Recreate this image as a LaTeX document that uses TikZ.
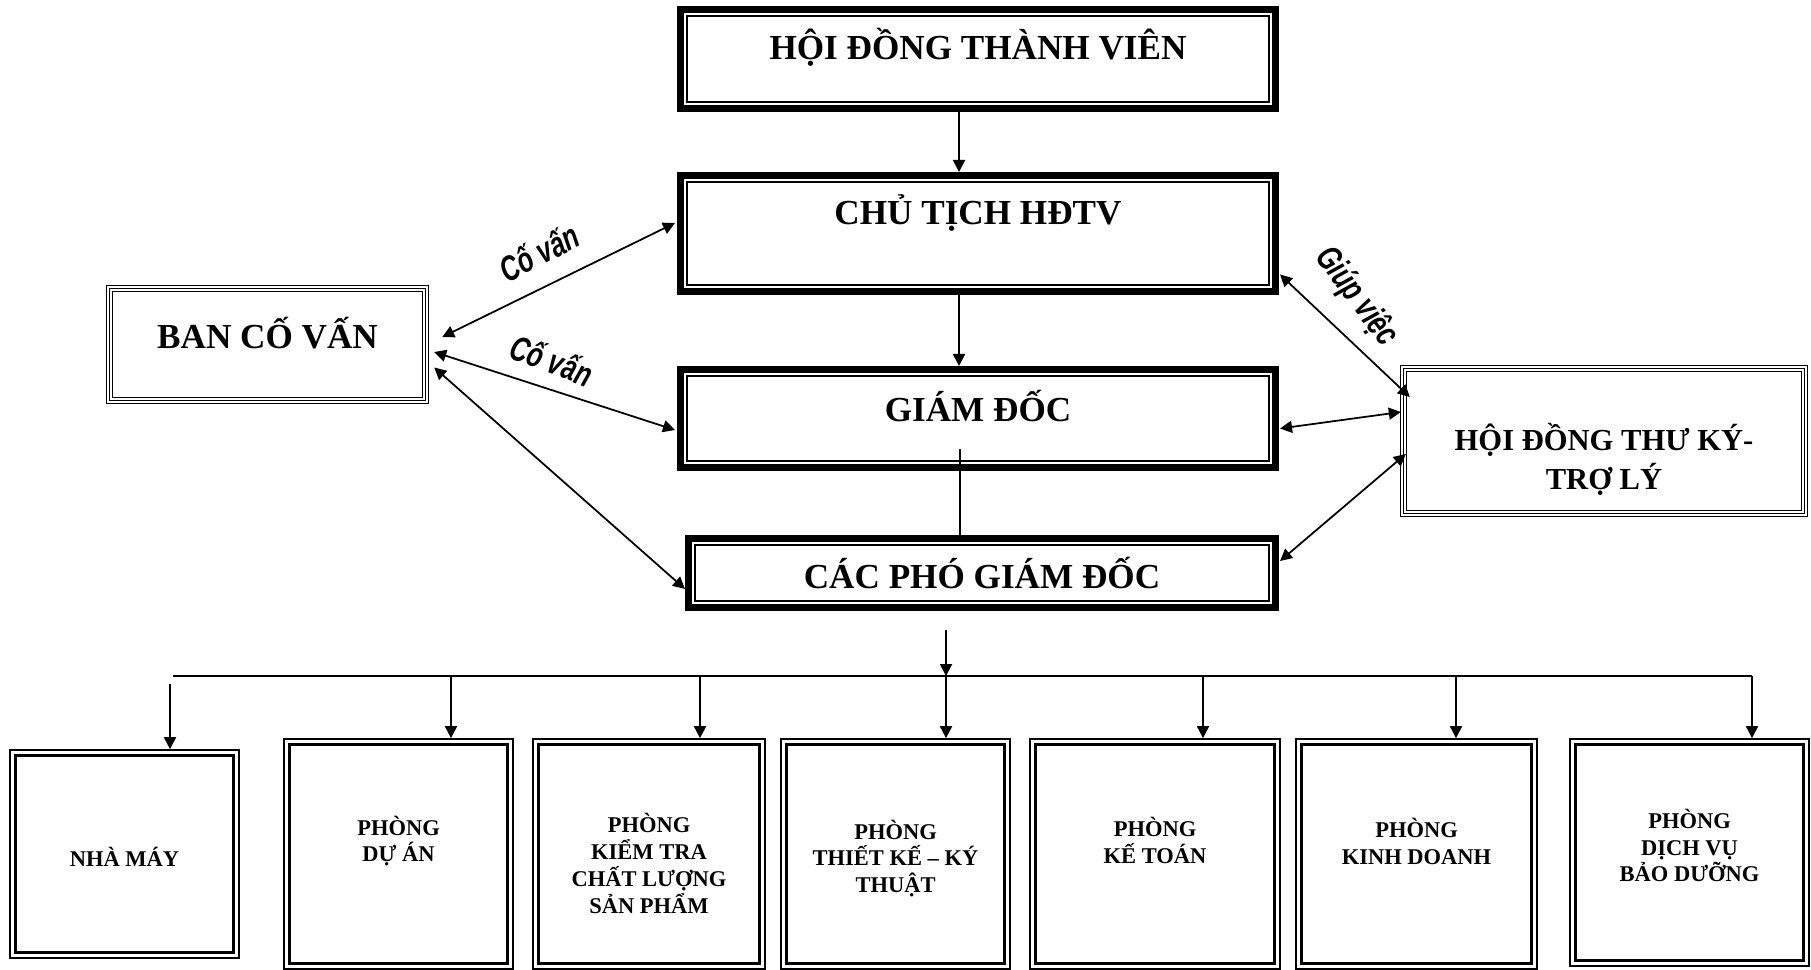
\documentclass[tikz,border=0pt]{standalone}
\usepackage{fontspec}
\setmainfont{Liberation Serif}
\newfontfamily\labfont[FakeStretch=0.72]{Liberation Sans}
\usetikzlibrary{positioning,arrows.meta,calc}

\begin{document}
\begin{tikzpicture}[
  topbox/.style={draw, line width=2pt, inner sep=0pt, minimum width=59.5mm},
  sidebox/.style={draw, line width=0.4pt, inner sep=0pt},
  dept/.style={draw, line width=0.5pt, inner sep=0pt},
  ttxt/.style={font=\fontsize{10}{12}\selectfont\bfseries, inner sep=0pt, align=center},
  stxt/.style={font=\fontsize{8.7}{11.1}\selectfont\bfseries, inner sep=0pt, align=center},
  dtxt/.style={font=\fontsize{6.4}{7.6}\selectfont\bfseries, inner sep=0pt, align=center},
  arr/.style={-{Triangle[length=1.2mm,width=1.2mm]}, line width=0.55pt},
  darr/.style={{Triangle[length=1.2mm,width=1.2mm]}-{Triangle[length=1.2mm,width=1.2mm]}, line width=0.5pt},
  cv/.style={font=\labfont\fontsize{10}{12}\selectfont\bfseries\itshape, inner sep=0pt},
]
\fill[white] (0,0) rectangle (18.11,9.69);
\useasboundingbox (0,0) rectangle (18.11,9.69);

% board, chairman, director, deputies
\node[topbox, minimum height=9.9mm,
      label={[ttxt, name=hdtv-t, yshift=1.2mm]center:HỘI ĐỒNG THÀNH VIÊN}] (hdtv) at (9.78,9.10) {};
\node[topbox, minimum height=11.6mm,
      label={[ttxt, name=ctich-t, yshift=2.05mm]center:CHỦ TỊCH HĐTV}] (ctich) at (9.78,7.355) {};
\node[topbox, minimum height=9.8mm,
      label={[ttxt, name=gd-t, yshift=1.2mm]center:GIÁM ĐỐC}] (gd) at (9.78,5.505) {};
\node[topbox, minimum width=58.7mm, minimum height=6.9mm,
      label={[ttxt, name=cpgd-t]center:CÁC PHÓ GIÁM ĐỐC}] (cpgd) at (9.82,3.96) {};

% side boxes
\node[sidebox, minimum width=32.2mm, minimum height=11.8mm,
      label={[ttxt, name=bcv-t, yshift=1.15mm]center:BAN CỐ VẤN}] (bcv) at (2.675,6.245) {};
\node[sidebox, minimum width=40.7mm, minimum height=15.1mm,
      label={[stxt, name=hdtk-t, yshift=-1.85mm]center:{HỘI ĐỒNG THƯ KÝ-\\TRỢ LÝ}}] (hdtk) at (16.04,5.28) {};

% departments
\node[dept, minimum width=22.9mm, minimum height=20.8mm,
      label={[dtxt, name=nm-t, yshift=-0.3mm]center:NHÀ MÁY}] (nm) at (1.245,1.15) {};
\node[dept, minimum width=22.9mm, minimum height=23mm,
      label={[dtxt, name=da-t, yshift=1.3mm]center:{PHÒNG\\DỰ ÁN}}] (da) at (3.985,1.15) {};
\node[dept, minimum width=23.2mm, minimum height=23mm,
      label={[dtxt, name=kt-t, yshift=-0.95mm]center:{PHÒNG\\KIỂM TRA\\CHẤT LƯỢNG\\SẢN PHẨM}}] (kt) at (6.49,1.15) {};
\node[dept, minimum width=22.9mm, minimum height=23mm,
      label={[dtxt, name=tk-t, yshift=-0.45mm]center:{PHÒNG\\THIẾT KẾ – KÝ\\THUẬT}}] (tk) at (8.955,1.15) {};
\node[dept, minimum width=25mm, minimum height=23mm,
      label={[dtxt, name=kto-t, yshift=1.35mm]center:{PHÒNG\\KẾ TOÁN}}] (kto) at (11.55,1.15) {};
\node[dept, minimum width=24.1mm, minimum height=23mm,
      label={[dtxt, name=kd-t, yshift=1.25mm]center:{PHÒNG\\KINH DOANH}}] (kd) at (14.165,1.15) {};
\node[dept, minimum width=23.9mm, minimum height=22.7mm,
      label={[dtxt, name=dv-t, yshift=0.7mm]center:{PHÒNG\\DỊCH VỤ\\BẢO DƯỠNG}}] (dv) at (16.895,1.165) {};

% inner frames
\foreach \n in {hdtv,ctich,gd,cpgd}
  \draw[line width=0.55pt] ([shift={(1mm,-1mm)}]\n.north west) rectangle ([shift={(-1mm,1mm)}]\n.south east);
\foreach \n in {bcv,hdtk}{
  \draw[line width=0.4pt] ([shift={(0.35mm,-0.35mm)}]\n.north west) rectangle ([shift={(-0.35mm,0.35mm)}]\n.south east);
  \draw[line width=0.4pt] ([shift={(0.68mm,-0.68mm)}]\n.north west) rectangle ([shift={(-0.68mm,0.68mm)}]\n.south east);
}
\foreach \n in {nm,da,kt,tk,kto,kd,dv}
  \draw[line width=0.9pt] ([shift={(0.64mm,-0.64mm)}]\n.north west) rectangle ([shift={(-0.64mm,0.64mm)}]\n.south east);

% main line
\draw[arr] ([xshift=-1.9mm]hdtv.south) -- ([xshift=-1.9mm]ctich.north);
\draw[arr] ([xshift=-1.9mm]ctich.south) -- ([xshift=-1.9mm]gd.north);
\draw[line width=0.55pt] ([xshift=-1.8mm,yshift=2.2mm]gd.south) -- ([xshift=-2.2mm]cpgd.north);

% advisers and secretaries
\draw[darr] ([shift={(0.13,0.075)}]bcv.east) -- ([shift={(-0.02,0.105)}]ctich.west);
\draw[darr] ([shift={(0.05,-0.075)}]bcv.east) -- ([shift={(-0.02,-0.115)}]gd.west);
\draw[darr] ([shift={(0.05,-0.23)}]bcv.east) -- ([shift={(0,-0.16)}]cpgd.west);
\draw[darr] ([shift={(0.01,-0.41)}]ctich.east) -- ([shift={(0.1,0.44)}]hdtk.west);
\draw[darr] ([shift={(0.01,-0.10)}]gd.east) -- ([shift={(0.01,0.29)}]hdtk.west);
\draw[darr] ([shift={(0.01,0.12)}]cpgd.east) -- ([shift={(0.06,-0.13)}]hdtk.west);
\node[cv, rotate=27] (cv1) at (5.39,7.17) {Cố vấn};
\node[cv, rotate=-21] (cv2) at (5.52,6.09) {Cố vấn};
\node[cv, rotate=-53] (gv) at (13.56,6.72) {Giúp việc};

% bus to departments
\coordinate (src) at (9.46,3.39);
\coordinate (busL) at (1.73,2.93);
\coordinate (busR) at (17.52,2.93);
\draw[arr] (src) -- (src |- busL);
\draw[line width=0.55pt] (busL) -- (busR);
\foreach \d/\x in {da/4.51, kt/7.00, tk/9.46, kto/12.03, kd/14.56, dv/17.52}{
  \coordinate (b-\d) at (\x,2.93);
  \draw[arr] (b-\d) -- (b-\d |- \d.north);
}
\coordinate (b-nm) at (1.70,2.85);
\draw[arr] (b-nm) -- (b-nm |- nm.north);
\end{tikzpicture}
\end{document}
